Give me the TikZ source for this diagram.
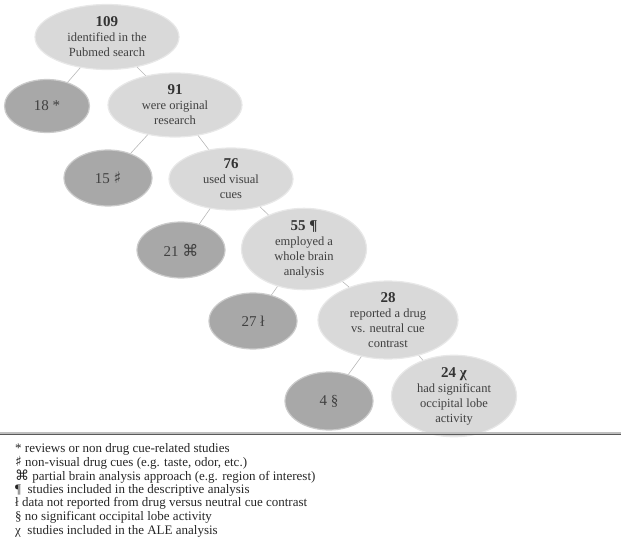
\documentclass[tikz,border=0pt]{standalone}
\usepackage{fontspec}
\setmainfont{Liberation Serif}
\newfontfamily\dejavu{DejaVu Sans}
\usetikzlibrary{shapes.geometric}
\definecolor{lightfill}{HTML}{D9D9D9}
\definecolor{darkfill}{HTML}{A8A8A8}
\definecolor{txt}{HTML}{404040}
\definecolor{numtxt}{HTML}{333333}
\definecolor{edge}{HTML}{B8B8B8}
\tikzset{
  lightnode/.style={ellipse, fill=lightfill, draw=lightfill!60!white, line width=1.2pt, inner sep=0pt, align=center, text=txt, font=\fontsize{12.5}{15}\selectfont},
  darknode/.style={ellipse, fill=darkfill, draw=darkfill!60!white, line width=1.2pt, inner sep=0pt, align=center, text=txt, font=\fontsize{15}{17}\selectfont},
  link/.style={draw=edge, line width=0.6pt},
  legend/.style={anchor=west, inner sep=0pt, text=black!85, font=\fontsize{13}{15}\selectfont}
}
\newcommand{\num}[1]{{\fontsize{15}{17}\selectfont\bfseries\color{numtxt}#1}}
\newcommand{\symb}[1]{{\dejavu\fontsize{16}{17}\selectfont #1}}
\newcommand{\lsymb}[1]{{\dejavu\fontsize{14}{15}\selectfont #1}}
\begin{document}
\begin{tikzpicture}[x=1pt,y=-1pt]
\useasboundingbox (0,0) rectangle (625,549);
% nodes
\node[lightnode, minimum width=144pt, minimum height=65pt] (n109) at (107,37) {\num{109}\\identified in the\\Pubmed search};
\node[darknode, minimum width=85pt, minimum height=53pt] (n18) at (47,106) {18 *};
\node[lightnode, minimum width=134pt, minimum height=64pt] (n91) at (175,105) {\num{91}\\were original\\research};
\node[darknode, minimum width=88pt, minimum height=56pt] (n15) at (108,178) {15 \symb{♯}};
\node[lightnode, minimum width=124pt, minimum height=62pt] (n76) at (231,179) {\num{76}\\used visual\\cues};
\node[darknode, minimum width=88pt, minimum height=56pt] (n21) at (181,250) {21 \symb{⌘}};
\node[lightnode, minimum width=125pt, minimum height=66pt] (n55) at (304,249) {\num{55 ¶}\\employed a\\whole brain\\analysis};
\node[darknode, minimum width=88pt, minimum height=56pt] (n27) at (253,321) {27 ł};
\node[lightnode, minimum width=140pt, minimum height=64pt] (n28) at (388,320) {\num{28}\\reported a drug\\vs. neutral cue\\contrast};
\node[darknode, minimum width=88pt, minimum height=58pt] (n4) at (329,401) {4 §};
\node[lightnode, minimum width=125pt, minimum height=64pt] (n24) at (454,396) {\num{24 χ}\\had significant\\occipital lobe\\activity};
% connectors
\draw[link] (n109) -- (n18);
\draw[link] (n109) -- (n91);
\draw[link] (n91) -- (n15);
\draw[link] (n91) -- (n76);
\draw[link] (n76) -- (n21);
\draw[link] (n76) -- (n55);
\draw[link] (n55) -- (n27);
\draw[link] (n55) -- (n28);
\draw[link] (n28) -- (n4);
\draw[link] (n28) -- (n24);
% separator
\coordinate (s1) at (0,434.5);
\coordinate (s2) at (621,434.5);
\draw[black!25, line width=2.5pt] ([yshift=1pt]s1) -- ([yshift=1pt]s2);
\draw[black!65, line width=1.2pt] (s1) -- (s2);
% legend
\node[legend] (l1) at (15,449) {* reviews or non drug cue-related studies};
\node[legend] (l2) at (15,462.7) {\lsymb{♯} non-visual drug cues (e.g. taste, odor, etc.)};
\node[legend] (l3) at (15,476.3) {\lsymb{⌘} partial brain analysis approach (e.g. region of interest)};
\node[legend] (l4) at (15,490) {¶\ \ studies included in the descriptive analysis};
\node[legend] (l5) at (15,503.7) {ł data not reported from drug versus neutral cue contrast};
\node[legend] (l6) at (15,517.3) {§ no significant occipital lobe activity};
\node[legend] (l7) at (15,531) {χ\ \ studies included in the ALE analysis};
\end{tikzpicture}
\end{document}
